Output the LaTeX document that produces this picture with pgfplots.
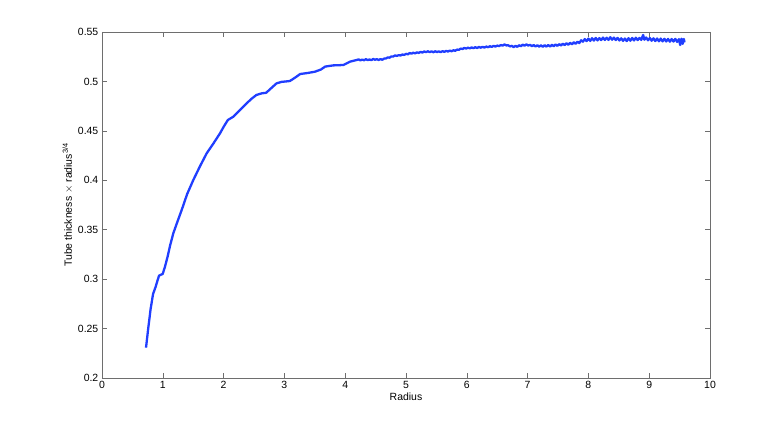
\documentclass[border=0pt]{standalone}
\usepackage{fontspec}
\setmainfont{Liberation Sans}
\usepackage{pgfplots}
\pgfplotsset{compat=1.18}
\definecolor{curve}{RGB}{32,62,255}
\definecolor{axgray}{RGB}{110,110,110}
\begin{document}
\fontsize{10.5}{12}\selectfont
\begin{tikzpicture}
\begin{axis}[
  name=ax,
  scale only axis, width=608bp, height=346bp,
  xmin=0, xmax=10, ymin=0.2, ymax=0.55,
  xtick={0,1,...,10},
  ytick={0.2,0.25,0.3,0.35,0.4,0.45,0.5,0.55},
  yticklabel style={/pgf/number format/fixed},
  tick align=inside, major tick length=5bp,
  axis line style={axgray, line width=0.8pt},
  every tick/.style={axgray, line width=0.6pt},
  tick label style={font=\fontsize{10.5}{12}\selectfont},
  label style={font=\fontsize{10.5}{12}\selectfont},
  /pgf/number format/assume math mode=true,
  xlabel={Radius},
  ylabel={Tube thickness $\times$ radius\textsuperscript{3/4}},
  xlabel style={yshift=3bp},
  ylabel style={yshift=-2bp},
]
\addplot[curve, line width=2.3pt, line join=round] coordinates {
(0.724,0.2307) (0.76,0.250) (0.80,0.270) (0.84,0.285) (0.883,0.2924)
(0.91,0.298) (0.938,0.3035) (0.97,0.3045) (0.998,0.3052) (1.036,0.3126)
(1.08,0.323) (1.12,0.334) (1.173,0.3464) (1.24,0.358) (1.311,0.370)
(1.40,0.386) (1.502,0.4003) (1.61,0.414) (1.722,0.4273) (1.83,0.437)
(1.941,0.4475) (2.0,0.454) (2.07,0.461) (2.16,0.4643) (2.25,0.470)
(2.35,0.476) (2.45,0.482) (2.54,0.4863) (2.63,0.488) (2.70,0.4885)
(2.78,0.493) (2.87,0.498) (2.95,0.4995) (3.09,0.5004) (3.18,0.504)
(3.26,0.5075) (3.38,0.5085) (3.50,0.5098) (3.60,0.512) (3.67,0.515)
(3.80,0.5162) (3.97,0.5166) (4.08,0.520) (4.19,0.5217)
(4.22,0.5223) (4.25,0.5213) (4.28,0.5221) (4.31,0.5214) (4.34,0.5225)
(4.37,0.5216) (4.40,0.5222) (4.43,0.5215) (4.46,0.5227) (4.49,0.5219)
(4.52,0.5225) (4.55,0.5217) (4.58,0.5226) (4.61,0.5219) (4.64,0.5231)
(4.67,0.5232) (4.70,0.5243) (4.73,0.5240) (4.76,0.5253) (4.79,0.5252)
(4.82,0.5263) (4.85,0.5258) (4.88,0.5266) (4.91,0.5262) (4.94,0.5272)
(4.97,0.5268) (5.00,0.5279) (5.03,0.5274) (5.06,0.5287) (5.09,0.5281)
(5.12,0.5290) (5.15,0.5284) (5.18,0.5294) (5.21,0.5288) (5.24,0.5299)
(5.27,0.5292) (5.30,0.5303) (5.33,0.5296) (5.36,0.5305) (5.39,0.5296)
(5.42,0.5304) (5.45,0.5295) (5.48,0.5305) (5.51,0.5297) (5.54,0.5304)
(5.57,0.5296) (5.60,0.5306) (5.63,0.5299) (5.66,0.5309) (5.69,0.5302)
(5.72,0.5312) (5.75,0.5305) (5.78,0.5315) (5.81,0.5310) (5.84,0.5322)
(5.87,0.5320) (5.90,0.5332) (5.93,0.5328) (5.96,0.5339) (5.99,0.5332)
(6.02,0.5342) (6.05,0.5334) (6.08,0.5344) (6.11,0.5336) (6.14,0.5346)
(6.17,0.5338) (6.20,0.5349) (6.23,0.5341) (6.26,0.5350) (6.29,0.5342)
(6.32,0.5353) (6.35,0.5346) (6.38,0.5356) (6.41,0.5349) (6.44,0.5360)
(6.47,0.5352) (6.50,0.5363) (6.53,0.5357) (6.56,0.5368) (6.59,0.5362)
(6.62,0.5374) (6.65,0.5364) (6.68,0.5366) (6.71,0.5354) (6.74,0.5360)
(6.77,0.5347) (6.80,0.5360) (6.83,0.5350) (6.86,0.5366) (6.89,0.5356)
(6.92,0.5372) (6.95,0.5361) (6.98,0.5375) (7.01,0.5363) (7.04,0.5370)
(7.07,0.5357) (7.10,0.5368) (7.13,0.5353) (7.16,0.5366) (7.19,0.5352)
(7.22,0.5365) (7.25,0.5350) (7.28,0.5367) (7.31,0.5352) (7.34,0.5368)
(7.37,0.5353) (7.40,0.5370) (7.43,0.5356) (7.46,0.5373) (7.49,0.5360)
(7.52,0.5377) (7.55,0.5363) (7.58,0.5382) (7.61,0.5367) (7.64,0.5386)
(7.67,0.5371) (7.70,0.5390) (7.73,0.5376) (7.76,0.5396) (7.79,0.5381)
(7.82,0.5402) (7.85,0.5388) (7.88,0.5416) (7.91,0.5402) (7.94,0.5428)
(7.97,0.5408) (8.00,0.5433) (8.03,0.5410) (8.06,0.5437) (8.09,0.5413)
(8.12,0.5440) (8.15,0.5415) (8.18,0.5438) (8.21,0.5418) (8.24,0.5444)
(8.27,0.5419) (8.30,0.5442) (8.33,0.5420) (8.36,0.5447) (8.39,0.5422)
(8.42,0.5443) (8.45,0.5418) (8.48,0.5440) (8.51,0.5414) (8.54,0.5436)
(8.57,0.5410) (8.60,0.5434) (8.63,0.5408) (8.66,0.5437) (8.69,0.5412)
(8.72,0.5440) (8.75,0.5414) (8.78,0.5442) (8.81,0.5418) (8.84,0.5440)
(8.87,0.5420) (8.90,0.5470) (8.92,0.5422) (8.95,0.5444) (8.98,0.5416)
(9.01,0.5439) (9.04,0.5412) (9.07,0.5436) (9.10,0.5408) (9.13,0.5434)
(9.16,0.5406) (9.19,0.5433) (9.22,0.5405) (9.25,0.5431) (9.28,0.5404)
(9.31,0.5430) (9.34,0.5402) (9.37,0.5429) (9.40,0.5403) (9.43,0.5430)
(9.46,0.5400) (9.49,0.5428) (9.51,0.5368) (9.53,0.5432) (9.55,0.5380)
(9.57,0.5430) (9.58,0.5395)
};
\end{axis}
\useasboundingbox ([xshift=-102bp,yshift=-47bp]ax.south west)
  rectangle ([xshift=74bp,yshift=32bp]ax.north east);
\end{tikzpicture}
\end{document}
